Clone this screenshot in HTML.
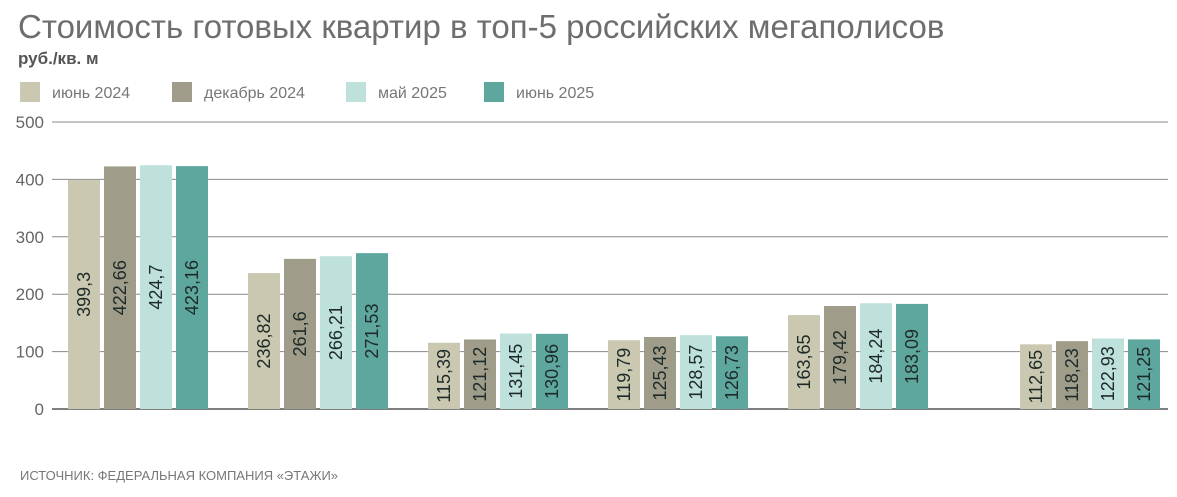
<!DOCTYPE html>
<html><head><meta charset="utf-8"><style>
body{margin:0;background:#fff;font-family:"Liberation Sans","DejaVu Sans",sans-serif;}
#wrap{position:relative;width:1177px;height:497px;overflow:hidden;background:#fff}
</style></head><body>
<div id="wrap">
<svg id="chart" width="1177" height="497" xmlns="http://www.w3.org/2000/svg">
<text x="18" y="38" font-size="33" fill="#6e6e6e" font-family="Liberation Sans, DejaVu Sans, sans-serif">Стоимость готовых квартир в топ-5 российских мегаполисов</text>
<text x="18" y="64" font-size="17" font-weight="bold" fill="#555">руб./кв. м</text>
<text x="20" y="480" font-size="13" fill="#777">ИСТОЧНИК: ФЕДЕРАЛЬНАЯ КОМПАНИЯ «ЭТАЖИ»</text>
<g id="legend"></g><g id="grid"></g><g id="bars"></g>
</svg>
</div>
<script>
const categories=["Москва","Санкт-Петербург","Новосибирск","Екатеринбург","Казань","средняя|(без Мск и СПб)"];
const seriesNames=["июнь 2024","декабрь 2024","май 2025","июнь 2025"];
const s1=[399.3,236.82,115.39,119.79,163.65,112.65];
const s2=[422.66,261.6,121.12,125.43,179.42,118.23];
const s3=[424.7,266.21,131.45,128.57,184.24,122.93];
const s4=[423.16,271.53,130.96,126.73,183.09,121.25];
const yTicks=[0,100,200,300,400,500];
const labels1=["399,3","236,82","115,39","119,79","163,65","112,65"];
const labels2=["422,66","261,6","121,12","125,43","179,42","118,23"];
const labels3=["424,7","266,21","131,45","128,57","184,24","122,93"];
const labels4=["423,16","271,53","130,96","126,73","183,09","121,25"];
const series=[s1,s2,s3,s4];const labs=[labels1,labels2,labels3,labels4];
const colors=["#cac8b1","#9f9d89","#bfe1db","#5ea79f"];
const NS="http://www.w3.org/2000/svg";
const y=v=>409-v*(287/500);
const gx=i=>68+i*180+(i===5?52:0);
function mk(t,a,p){const e=document.createElementNS(NS,t);for(const k in a)e.setAttribute(k,a[k]);p.appendChild(e);return e;}
const grid=document.getElementById('grid'),bars=document.getElementById('bars'),leg=document.getElementById('legend');
yTicks.forEach(t=>{
 const l=mk('line',{x1:52,x2:1168,y1:y(t),y2:y(t),stroke:t===0?'#555':'#888','stroke-width':t===0?1.5:1},grid);
 
 
 const tx=mk('text',{x:44,y:y(t)+6,'text-anchor':'end','font-size':17,fill:'#666'},grid);
 tx.textContent=t;
 
 
});
const legX=[20,172,346,484];
seriesNames.forEach((n,k)=>{
 const r=mk('rect',{x:legX[k],y:82,width:20,height:20,fill:colors[k]},leg);
 
 
 const t=mk('text',{x:legX[k]+32,y:98,'font-size':16,fill:'#777'},leg);
 t.textContent=n;
 
 
});
categories.forEach((c,i)=>{
 series.forEach((s,k)=>{
  const x=gx(i)+k*36, top=y(s[i]);
  const b=mk('rect',{x:x,y:top,width:32,height:409-top,fill:colors[k]},bars);
  
  
  const cx=x+16, cy=top+(409-top)/2;
  const t=mk('text',{x:cx,y:cy,'text-anchor':'middle','dominant-baseline':'central','font-size':18,fill:'#1e2a28',transform:`rotate(-90 ${cx} ${cy})`},bars);
  t.textContent=labs[k][i];
  
  
 });
 const parts=c.split('|');
 parts.forEach((p,j)=>{
  const t=mk('text',{x:gx(i)+游(0),y:442+j*18,'text-anchor':'middle','font-size':16,fill:'#666'},bars);
 });
});
function 游(){return 70;}
</script>
</body></html>
